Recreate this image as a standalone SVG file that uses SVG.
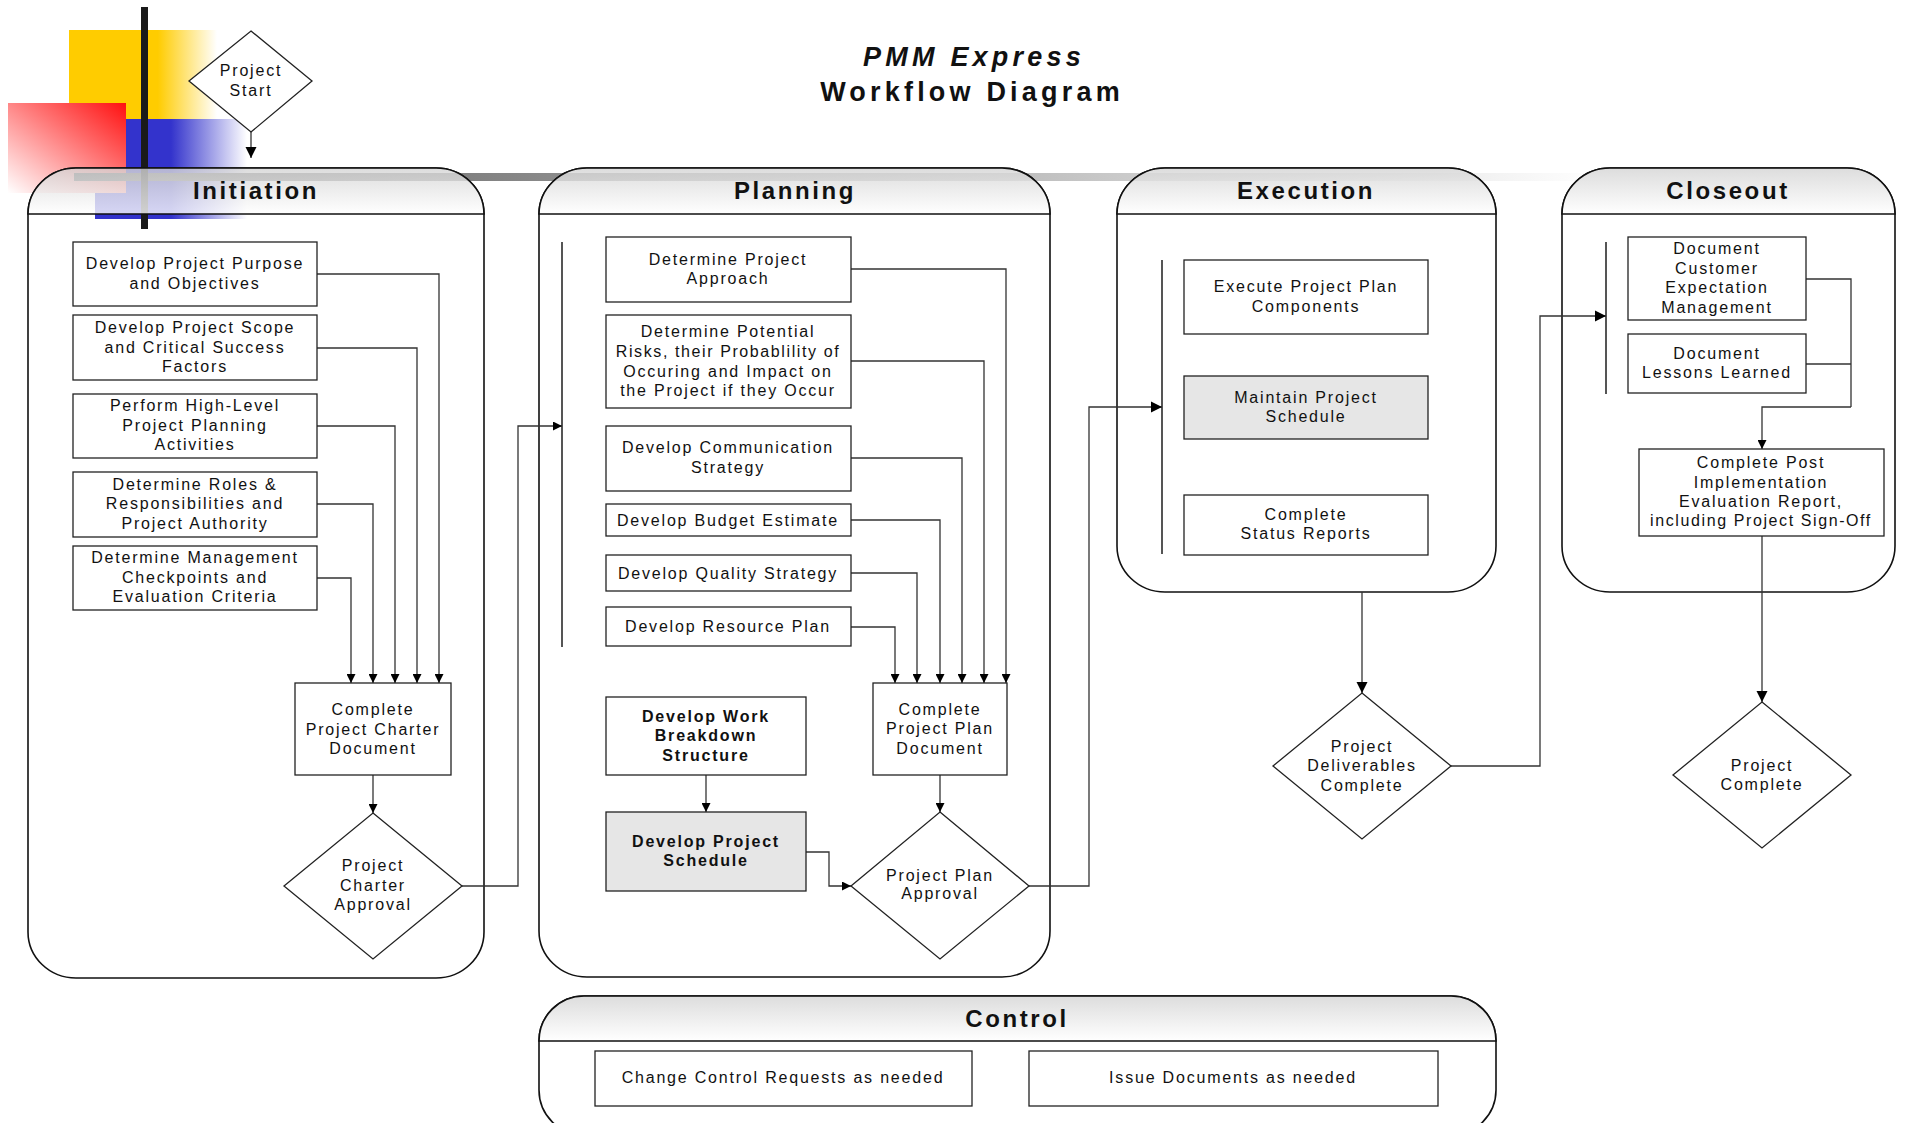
<svg xmlns="http://www.w3.org/2000/svg" width="1905" height="1123" viewBox="0 0 1905 1123">
<defs>
<linearGradient id="gYellow" x1="69" y1="0" x2="217" y2="0" gradientUnits="userSpaceOnUse"><stop offset="0" stop-color="#ffcc00"/><stop offset="0.6" stop-color="#ffcc00"/><stop offset="1" stop-color="#ffffff"/></linearGradient>
<linearGradient id="gBlue" x1="95" y1="0" x2="247" y2="0" gradientUnits="userSpaceOnUse"><stop offset="0" stop-color="#3333cc"/><stop offset="0.5" stop-color="#3333cc"/><stop offset="1" stop-color="#ffffff"/></linearGradient>
<linearGradient id="gRed" x1="1" y1="0" x2="0" y2="1"><stop offset="0" stop-color="#ff1010"/><stop offset="1" stop-color="#ffffff"/></linearGradient>
<linearGradient id="gBar" x1="74" y1="0" x2="1600" y2="0" gradientUnits="userSpaceOnUse"><stop offset="0" stop-color="#555555"/><stop offset="1" stop-color="#ffffff"/></linearGradient>
<linearGradient id="gHead" x1="0" y1="0" x2="0" y2="1"><stop offset="0" stop-color="#d4d4d4" stop-opacity="0.8"/><stop offset="1" stop-color="#ffffff" stop-opacity="0.8"/></linearGradient>
<marker id="arr" viewBox="0 0 10 10" refX="10" refY="5" markerWidth="11" markerHeight="9" orient="auto" markerUnits="userSpaceOnUse"><path d="M0,0 L10,5 L0,10 Z" fill="#000"/></marker>
<marker id="arrL" viewBox="0 0 10 10" refX="10" refY="5" markerWidth="11" markerHeight="12" orient="auto" markerUnits="userSpaceOnUse"><path d="M0,0 L10,5 L0,10 Z" fill="#000"/></marker>
</defs>
<style>
.t{font-family:"Liberation Sans",Arial,sans-serif;font-size:16px;letter-spacing:1.8px;fill:#111;text-anchor:middle}
.tb{font-weight:bold}
.lt{font-size:24px;font-weight:bold;letter-spacing:2.6px}
.tt{font-size:27px;font-weight:bold;letter-spacing:4.2px}
.box{fill:#fff;stroke:#222;stroke-width:1.3}
.gbox{fill:#e6e6e6;stroke:#222;stroke-width:1.3}
.lane{fill:none;stroke:#111;stroke-width:1.6}
.head{fill:url(#gHead);stroke:#111;stroke-width:1.6}
.bar{stroke:#555;stroke-width:2}
.c{fill:none;stroke:#333;stroke-width:1.3}
.ca{marker-end:url(#arr)}
</style>
<rect width="1905" height="1123" fill="#fff"/>

<g id="decoration">
<rect x="69" y="30" width="148" height="89" fill="url(#gYellow)"/>
<rect x="95" y="119" width="152" height="100" fill="url(#gBlue)"/>
<rect x="8" y="103" width="118" height="90" fill="url(#gRed)"/>
<rect x="74" y="173" width="1526" height="8" fill="url(#gBar)"/>
<rect x="141" y="7" width="7" height="222" fill="#1a1a1a"/>
</g>

<g id="title">
<text class="t tt" x="974" y="66" font-style="italic">PMM Express</text>
<text class="t tt" x="972" y="101">Workflow Diagram</text>
</g>

<g id="lane-initiation">
<path class="lane" d="M28,214 A48,46 0 0 1 76,168 L436,168 A48,46 0 0 1 484,214 L484,932 A48,46 0 0 1 436,978 L76,978 A48,46 0 0 1 28,932 Z"/>
<path class="head" d="M28,214 A48,46 0 0 1 76,168 L436,168 A48,46 0 0 1 484,214 Z"/>
<text class="t lt" x="256" y="199">Initiation</text>
</g>
<g id="lane-planning">
<path class="lane" d="M539,214 A48,46 0 0 1 587,168 L1002,168 A48,46 0 0 1 1050,214 L1050,931 A48,46 0 0 1 1002,977 L587,977 A48,46 0 0 1 539,931 Z"/>
<path class="head" d="M539,214 A48,46 0 0 1 587,168 L1002,168 A48,46 0 0 1 1050,214 Z"/>
<text class="t lt" x="795" y="199">Planning</text>
</g>
<g id="lane-execution">
<path class="lane" d="M1117,214 A48,46 0 0 1 1165,168 L1448,168 A48,46 0 0 1 1496,214 L1496,546 A48,46 0 0 1 1448,592 L1165,592 A48,46 0 0 1 1117,546 Z"/>
<path class="head" d="M1117,214 A48,46 0 0 1 1165,168 L1448,168 A48,46 0 0 1 1496,214 Z"/>
<text class="t lt" x="1306" y="199">Execution</text>
</g>
<g id="lane-closeout">
<path class="lane" d="M1562,214 A48,46 0 0 1 1610,168 L1847,168 A48,46 0 0 1 1895,214 L1895,546 A48,46 0 0 1 1847,592 L1610,592 A48,46 0 0 1 1562,546 Z"/>
<path class="head" d="M1562,214 A48,46 0 0 1 1610,168 L1847,168 A48,46 0 0 1 1895,214 Z"/>
<text class="t lt" x="1728" y="199">Closeout</text>
</g>
<g id="lane-control">
<path class="lane" d="M539,1041 A45,45 0 0 1 584,996 L1451,996 A45,45 0 0 1 1496,1041 L1496,1090 A45,45 0 0 1 1451,1135 L584,1135 A45,45 0 0 1 539,1090 Z"/>
<path class="head" d="M539,1041 A45,45 0 0 1 584,996 L1451,996 A45,45 0 0 1 1496,1041 Z"/>
<text class="t lt" x="1017" y="1027">Control</text>
</g>

<g id="bars">
<line class="bar" x1="562" y1="242" x2="562" y2="647"/>
<line class="bar" x1="1162" y1="260" x2="1162" y2="554"/>
<line class="bar" x1="1606" y1="242" x2="1606" y2="394"/>
</g>

<g id="connectors">
<path class="c" d="M251,132 L251,158" marker-end="url(#arrL)"/>
<path class="c ca" d="M317,274 L439,274 L439,683"/>
<path class="c ca" d="M317,348 L417,348 L417,683"/>
<path class="c ca" d="M317,426 L395,426 L395,683"/>
<path class="c ca" d="M317,504 L373,504 L373,683"/>
<path class="c ca" d="M317,578 L351,578 L351,683"/>
<path class="c ca" d="M373,775 L373,813"/>
<path class="c ca" d="M462,886 L518,886 L518,426 L562,426"/>
<path class="c ca" d="M851,269 L1006,269 L1006,683"/>
<path class="c ca" d="M851,361 L984,361 L984,683"/>
<path class="c ca" d="M851,458 L962,458 L962,683"/>
<path class="c ca" d="M851,520 L940,520 L940,683"/>
<path class="c ca" d="M851,573 L917,573 L917,683"/>
<path class="c ca" d="M851,627 L895,627 L895,683"/>
<path class="c ca" d="M706,775 L706,812"/>
<path class="c ca" d="M806,852 L829,852 L829,886 L851,886"/>
<path class="c ca" d="M940,775 L940,812"/>
<path class="c" d="M1029,886 L1089,886 L1089,407 L1162,407" marker-end="url(#arrL)"/>
<path class="c" d="M1362,592 L1362,693" marker-end="url(#arrL)"/>
<path class="c" d="M1451,766 L1540,766 L1540,316 L1606,316" marker-end="url(#arrL)"/>
<path class="c" d="M1806,279 L1851,279 L1851,407"/>
<path class="c" d="M1806,364 L1851,364"/>
<path class="c ca" d="M1851,407 L1762,407 L1762,449"/>
<path class="c" d="M1762,536 L1762,702" marker-end="url(#arrL)"/>
</g>

<g id="project-start">
<polygon class="box" points="251,31 312,81 251,132 189,81"/>
<text class="t" x="251" y="76">Project</text>
<text class="t" x="251" y="96">Start</text>
</g>

<g id="i-purpose">
<rect class="box" x="73" y="242" width="244" height="64"/>
<text class="t" x="195" y="269">Develop Project Purpose</text>
<text class="t" x="195" y="289">and Objectives</text>
</g>
<g id="i-scope">
<rect class="box" x="73" y="315" width="244" height="65"/>
<text class="t" x="195" y="333">Develop Project Scope</text>
<text class="t" x="195" y="353">and Critical Success</text>
<text class="t" x="195" y="372">Factors</text>
</g>
<g id="i-highlevel">
<rect class="box" x="73" y="394" width="244" height="64"/>
<text class="t" x="195" y="411">Perform High-Level</text>
<text class="t" x="195" y="431">Project Planning</text>
<text class="t" x="195" y="450">Activities</text>
</g>
<g id="i-roles">
<rect class="box" x="73" y="472" width="244" height="65"/>
<text class="t" x="195" y="490">Determine Roles &amp;</text>
<text class="t" x="195" y="509">Responsibilities and</text>
<text class="t" x="195" y="529">Project Authority</text>
</g>
<g id="i-checkpoints">
<rect class="box" x="73" y="546" width="244" height="64"/>
<text class="t" x="195" y="563">Determine Management</text>
<text class="t" x="195" y="583">Checkpoints and</text>
<text class="t" x="195" y="602">Evaluation Criteria</text>
</g>
<g id="i-charter-doc">
<rect class="box" x="295" y="683" width="156" height="92"/>
<text class="t" x="373" y="715">Complete</text>
<text class="t" x="373" y="735">Project Charter</text>
<text class="t" x="373" y="754">Document</text>
</g>
<g id="i-charter-approval">
<polygon class="box" points="373,813 462,886 373,959 284,886"/>
<text class="t" x="373" y="871">Project</text>
<text class="t" x="373" y="891">Charter</text>
<text class="t" x="373" y="910">Approval</text>
</g>

<g id="p-approach">
<rect class="box" x="606" y="237" width="245" height="65"/>
<text class="t" x="728" y="265">Determine Project</text>
<text class="t" x="728" y="284">Approach</text>
</g>
<g id="p-risks">
<rect class="box" x="606" y="315" width="245" height="93"/>
<text class="t" x="728" y="337">Determine Potential</text>
<text class="t" x="728" y="357" style="letter-spacing:1.6px">Risks, their Probablility of</text>
<text class="t" x="728" y="377">Occuring and Impact on</text>
<text class="t" x="728" y="396">the Project if they Occur</text>
</g>
<g id="p-communication">
<rect class="box" x="606" y="426" width="245" height="65"/>
<text class="t" x="728" y="453">Develop Communication</text>
<text class="t" x="728" y="473">Strategy</text>
</g>
<g id="p-budget">
<rect class="box" x="606" y="504" width="245" height="32"/>
<text class="t" x="728" y="526">Develop Budget Estimate</text>
</g>
<g id="p-quality">
<rect class="box" x="606" y="555" width="245" height="36"/>
<text class="t" x="728" y="579">Develop Quality Strategy</text>
</g>
<g id="p-resource">
<rect class="box" x="606" y="607" width="245" height="39"/>
<text class="t" x="728" y="632">Develop Resource Plan</text>
</g>
<g id="p-wbs">
<rect class="box" x="606" y="697" width="200" height="78"/>
<text class="t tb" x="706" y="722">Develop Work</text>
<text class="t tb" x="706" y="741">Breakdown</text>
<text class="t tb" x="706" y="761">Structure</text>
</g>
<g id="p-schedule">
<rect class="gbox" x="606" y="812" width="200" height="79"/>
<text class="t tb" x="706" y="847">Develop Project</text>
<text class="t tb" x="706" y="866">Schedule</text>
</g>
<g id="p-plan-doc">
<rect class="box" x="873" y="683" width="134" height="92"/>
<text class="t" x="940" y="715">Complete</text>
<text class="t" x="940" y="734">Project Plan</text>
<text class="t" x="940" y="754">Document</text>
</g>
<g id="p-plan-approval">
<polygon class="box" points="940,812 1029,886 940,959 851,886"/>
<text class="t" x="940" y="881">Project Plan</text>
<text class="t" x="940" y="899">Approval</text>
</g>

<g id="e-execute">
<rect class="box" x="1184" y="260" width="244" height="74"/>
<text class="t" x="1306" y="292">Execute Project Plan</text>
<text class="t" x="1306" y="312">Components</text>
</g>
<g id="e-maintain">
<rect class="gbox" x="1184" y="376" width="244" height="63"/>
<text class="t" x="1306" y="403">Maintain Project</text>
<text class="t" x="1306" y="422">Schedule</text>
</g>
<g id="e-status">
<rect class="box" x="1184" y="495" width="244" height="60"/>
<text class="t" x="1306" y="520">Complete</text>
<text class="t" x="1306" y="539">Status Reports</text>
</g>
<g id="e-deliverables">
<polygon class="box" points="1362,693 1451,766 1362,839 1273,766"/>
<text class="t" x="1362" y="752">Project</text>
<text class="t" x="1362" y="771">Deliverables</text>
<text class="t" x="1362" y="791">Complete</text>
</g>

<g id="c-expectation">
<rect class="box" x="1628" y="237" width="178" height="83"/>
<text class="t" x="1717" y="254">Document</text>
<text class="t" x="1717" y="274">Customer</text>
<text class="t" x="1717" y="293">Expectation</text>
<text class="t" x="1717" y="313">Management</text>
</g>
<g id="c-lessons">
<rect class="box" x="1628" y="334" width="178" height="59"/>
<text class="t" x="1717" y="359">Document</text>
<text class="t" x="1717" y="378">Lessons Learned</text>
</g>
<g id="c-post-impl">
<rect class="box" x="1639" y="449" width="245" height="87"/>
<text class="t" x="1761" y="468">Complete Post</text>
<text class="t" x="1761" y="488">Implementation</text>
<text class="t" x="1761" y="507">Evaluation Report,</text>
<text class="t" x="1761" y="526" style="letter-spacing:1.6px">including Project Sign-Off</text>
</g>
<g id="c-project-complete">
<polygon class="box" points="1762,702 1851,775 1762,848 1673,775"/>
<text class="t" x="1762" y="771">Project</text>
<text class="t" x="1762" y="790">Complete</text>
</g>

<g id="k-change">
<rect class="box" x="595" y="1051" width="377" height="55"/>
<text class="t" x="783" y="1083">Change Control Requests as needed</text>
</g>
<g id="k-issue">
<rect class="box" x="1029" y="1051" width="409" height="55"/>
<text class="t" x="1233" y="1083">Issue Documents as needed</text>
</g>
</svg>
